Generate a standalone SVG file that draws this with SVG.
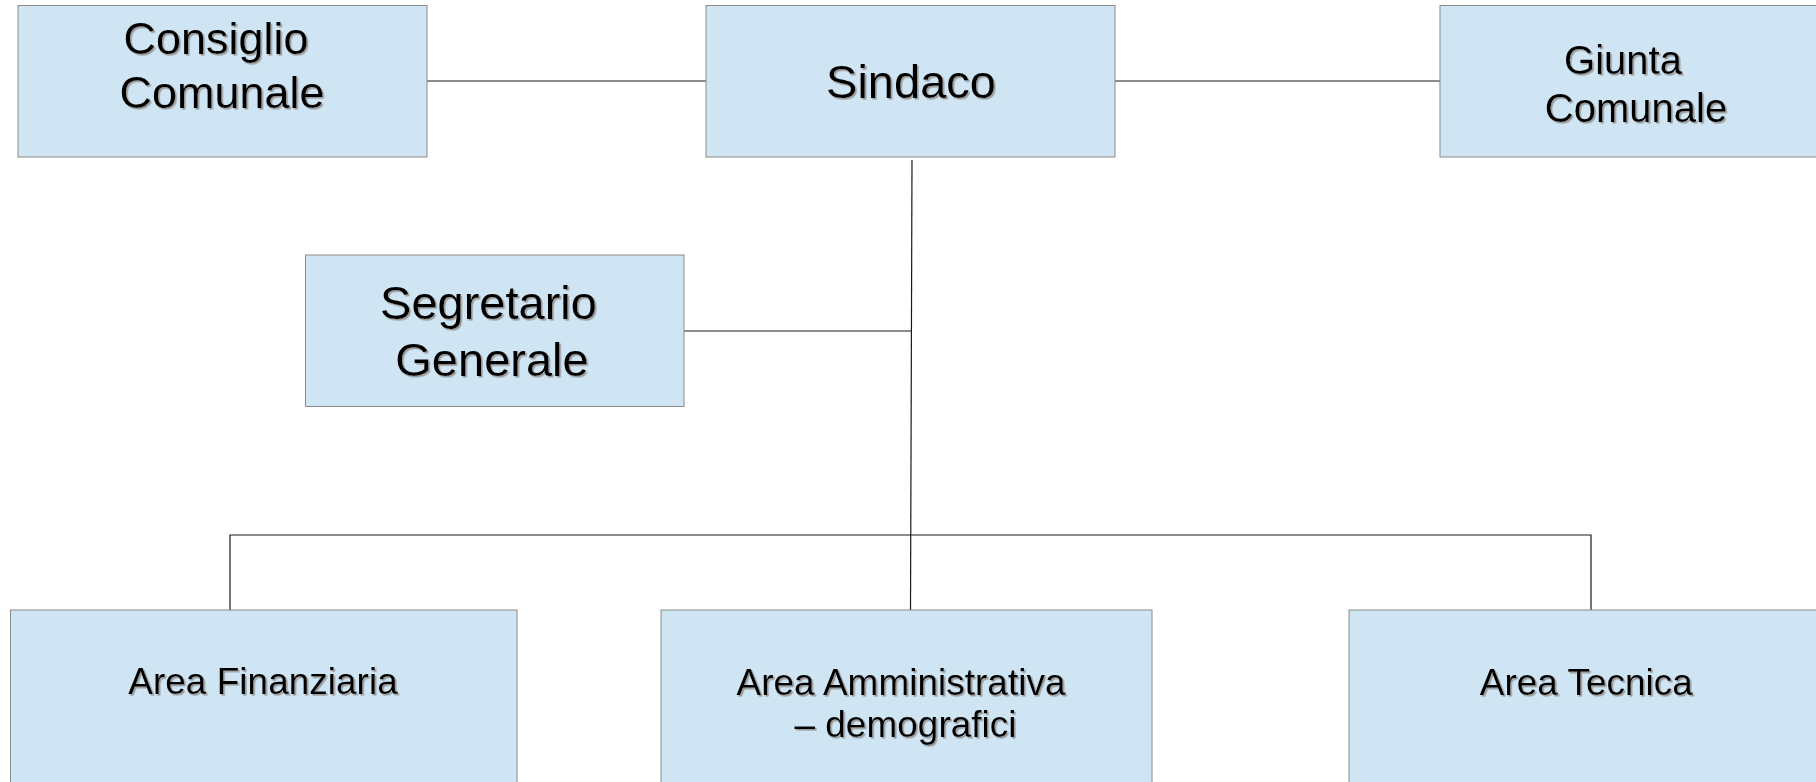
<svg xmlns="http://www.w3.org/2000/svg" width="1816" height="782" viewBox="0 0 1816 782">
<defs>
<filter id="sh" x="-5%" y="-20%" width="115%" height="150%">
<feDropShadow dx="1.6" dy="1.6" stdDeviation="0.4" flood-color="#9a9a9a" flood-opacity="1"/>
</filter>
</defs>
<style>
.box{fill:#cfe5f3;stroke:#8a8a8a;stroke-width:1}
.t{font-family:"Liberation Sans",Arial,sans-serif;fill:#000;text-anchor:middle;filter:url(#sh)}
.c{stroke:#1a1a1a;stroke-width:1.2;fill:none}
</style>
<rect width="1816" height="782" fill="#fff"/>
<g id="connectors">
<line class="c" x1="427" y1="81" x2="706" y2="81"/>
<line class="c" x1="1115" y1="81" x2="1440" y2="81"/>
<line class="c" x1="912" y1="160" x2="910.5" y2="610"/>
<line class="c" x1="684" y1="331" x2="911" y2="331"/>
<polyline class="c" points="230,610 230,535 1591,535 1591,610"/>
</g>
<g id="consiglio">
<rect class="box" x="18" y="5.5" width="409" height="151.5"/>
<text class="t" font-size="45" x="216" y="54">Consiglio</text>
<text class="t" font-size="45" x="222" y="107.5">Comunale</text>
</g>
<g id="sindaco">
<rect class="box" x="706" y="5.5" width="409" height="151.5"/>
<text class="t" font-size="46.5" x="911" y="97.7" textLength="170" lengthAdjust="spacingAndGlyphs">Sindaco</text>
</g>
<g id="giunta">
<rect class="box" x="1440" y="5.5" width="390" height="151.5"/>
<text class="t" font-size="40" x="1623" y="74">Giunta</text>
<text class="t" font-size="40" x="1636" y="122">Comunale</text>
</g>
<g id="segretario">
<rect class="box" x="305.5" y="255" width="378.5" height="151.5"/>
<text class="t" font-size="47" x="488.5" y="319">Segretario</text>
<text class="t" font-size="47" x="492" y="376">Generale</text>
</g>
<g id="finanziaria">
<rect class="box" x="10.5" y="610" width="506.5" height="190"/>
<text class="t" font-size="37" x="263" y="694">Area Finanziaria</text>
</g>
<g id="amministrativa">
<rect class="box" x="661" y="610" width="491" height="190"/>
<text class="t" font-size="37" x="901" y="694.5">Area Amministrativa</text>
<text class="t" font-size="37" x="905.5" y="737">– demografici</text>
</g>
<g id="tecnica">
<rect class="box" x="1349" y="610" width="480" height="190"/>
<text class="t" font-size="37" x="1586.3" y="694.5" textLength="213" lengthAdjust="spacingAndGlyphs">Area Tecnica</text>
</g>
</svg>
